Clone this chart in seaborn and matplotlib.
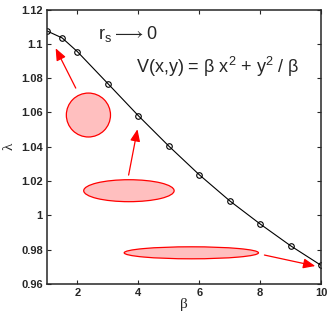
import matplotlib
matplotlib.use("Agg")
import matplotlib.pyplot as plt
from matplotlib.patches import Ellipse
from matplotlib.ticker import FuncFormatter
import numpy as np
import pandas as pd
import seaborn as sns

# eigenvalue lambda vs anisotropy beta (r_s -> 0)
beta = [1, 1.5, 2, 3, 4, 5, 6, 7, 8, 9, 10]
lam = [1.1075, 1.1034, 1.0954, 1.0768, 1.0581, 1.0404, 1.0237, 1.0085, 0.9950, 0.9823, 0.9709]

x_ticks = [2, 4, 6, 8, 10]
y_ticks = [0.96, 0.98, 1.0, 1.02, 1.04, 1.06, 1.08, 1.10, 1.12]

# sketch shapes: (centre x, centre y, width, height) in data units
shapes = [
    (2.36, 1.0585, 1.45, 0.0256),
    (3.69, 1.0144, 2.97, 0.0128),
    (5.74, 0.9782, 4.41, 0.0070),
]
# arrows: (tail x, tail y, head x, head y)
arrows = [
    (1.944, 1.0742, 1.284, 1.0974),
    (3.68, 1.0235, 3.97, 1.0502),
    (8.14, 0.9769, 9.81, 0.9705),
]

df = pd.DataFrame({"beta": beta, "lambda": lam})

sns.set_theme(style="ticks")
plt.rcParams["font.family"] = ["Liberation Sans", "DejaVu Sans"]

fig = plt.figure(figsize=(3.32, 3.17), dpi=100)
ax = fig.add_axes([0.1416, 0.104, 0.8254, 0.866])

sns.lineplot(data=df, x="beta", y="lambda", ax=ax, color="black", linewidth=0.8,
             marker="o", markersize=4, markerfacecolor="none",
             markeredgecolor="black", markeredgewidth=0.8)

for cx, cy, w, h in shapes:
    ax.add_patch(Ellipse((cx, cy), w, h, facecolor="#ffbfbf", edgecolor="red", linewidth=0.9))

for x0, y0, x1, y1 in arrows:
    ax.annotate("", xy=(x1, y1), xytext=(x0, y0),
                arrowprops=dict(arrowstyle="-|>,head_length=0.6,head_width=0.25",
                                color="red", linewidth=0.9, shrinkA=0, shrinkB=0))

ax.text(2.68, 1.106, r"$\mathregular{r_s \longrightarrow 0}$", fontsize=13, va="center")
ax.text(3.92, 1.0865,
        r"V(x,y) = β x$\mathregular{^2}$ + y$\mathregular{^2}$ / β",
        fontsize=13, va="center")

ax.set_xlim(1, 10)
ax.set_ylim(0.96, 1.12)
ax.set_xticks(x_ticks)
ax.set_yticks(y_ticks)
ax.yaxis.set_major_formatter(FuncFormatter(lambda v, p: f"{v:g}"))
ax.tick_params(direction="in", top=True, right=True, length=3, width=0.8,
               labelsize=8, pad=3)
for lbl in ax.get_xticklabels() + ax.get_yticklabels():
    lbl.set_fontweight("bold")
for s in ax.spines.values():
    s.set_linewidth(1.1)
    s.set_visible(True)

ax.set_xlabel("β", fontsize=11, family=["Liberation Serif", "DejaVu Serif"], labelpad=0)
ax.set_ylabel("λ", fontsize=11, family=["Liberation Serif", "DejaVu Serif"], labelpad=4)

fig.savefig("out.png", dpi=100)
